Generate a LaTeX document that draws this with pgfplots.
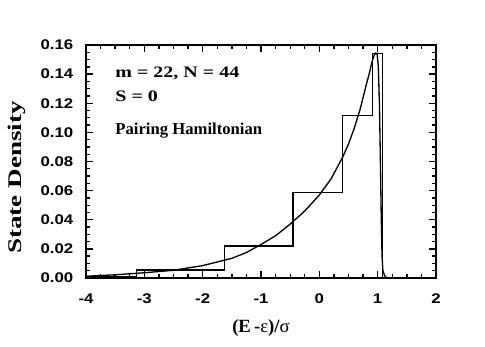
\documentclass[border=0pt]{standalone}
\usepackage{fontspec}
\setmainfont{Liberation Serif}
\newfontfamily\tickfont{Liberation Sans}[FakeStretch=1.2]
\newfontfamily\wideserif{Liberation Serif}[FakeStretch=1.25]
\newfontfamily\ylabfont{Liberation Serif}[FakeStretch=1.4]
\usepackage{pgfplots}
\pgfplotsset{compat=1.18}
\begin{document}
\begin{tikzpicture}
\useasboundingbox (-64.5pt,-51pt) rectangle (299.25pt,208.5pt);
\begin{axis}[
  at={(0pt,0pt)}, anchor=south west,
  scale only axis, width=262.5pt, height=174.75pt,
  xmin=-4, xmax=2, ymin=0, ymax=0.16,
  xtick={-4,-3,-2,-1,0,1,2}, ytick={0,0.02,0.04,0.06,0.08,0.10,0.12,0.14,0.16},
  minor x tick num=3, minor y tick num=3,
  tick align=inside,
  major tick length=5pt, minor tick length=3.2pt,
  axis line style={line width=1pt},
  tick style={black, line width=1pt},
  /pgf/number format/assume math mode=true,
  tick label style={font=\tickfont\bfseries\fontsize{10.5}{12}\selectfont},
  yticklabel style={/pgf/number format/fixed, /pgf/number format/fixed zerofill, /pgf/number format/precision=2, xshift=-6pt},
  xticklabel style={yshift=-8pt},
  xlabel={(E\,-\textmd{ε})/\textmd{σ}},
  ylabel={State Density},
  xlabel style={at={(axis description cs:0.5,-0.215)}, anchor=center, font=\bfseries\fontsize{14}{16}\selectfont},
  ylabel style={at={(axis description cs:-0.197,0.431)}, anchor=center, font=\ylabfont\bfseries\fontsize{14.5}{17}\selectfont},
  tk/.style={black, line width=1pt, forget plot},
]
% tick marks drawn through the axis (x major / minor)
\pgfplotsinvokeforeach{-3,-2,-1,0,1}{
  \addplot[tk] coordinates {(#1,0) (#1,0.004578)};
  \addplot[tk] coordinates {(#1,0.16) (#1,0.155422)};
}
\pgfplotsinvokeforeach{-3.75,-3.5,-3.25,-2.75,-2.5,-2.25,-1.75,-1.5,-1.25,-0.75,-0.5,-0.25,0.25,0.5,0.75,1.25,1.5,1.75}{
  \addplot[tk] coordinates {(#1,0) (#1,0.00293)};
  \addplot[tk] coordinates {(#1,0.16) (#1,0.15707)};
}
\pgfplotsinvokeforeach{0.02,0.04,0.06,0.08,0.10,0.12,0.14}{
  \addplot[tk] coordinates {(-4,#1) (-3.88571,#1)};
  \addplot[tk] coordinates {(2,#1) (1.88571,#1)};
}
\pgfplotsinvokeforeach{0.005,0.01,0.015,0.025,0.03,0.035,0.045,0.05,0.055,0.065,0.07,0.075,0.085,0.09,0.095,0.105,0.11,0.115,0.125,0.13,0.135,0.145,0.15,0.155}{
  \addplot[tk] coordinates {(-4,#1) (-3.92686,#1)};
  \addplot[tk] coordinates {(2,#1) (1.92686,#1)};
}
% histogram
\addplot[const plot, line width=1pt, black] coordinates {
  (-4,0.001) (-3.13,0.0055) (-1.63,0.022) (-0.45,0.0586) (0.40,0.1117) (0.91,0.154) (1.08,0)
};
% smooth density curve
\addplot[line width=1pt, black] coordinates {
  (-4,0.0012) (-3.5,0.0022) (-3,0.0036) (-2.5,0.0053) (-2,0.0085) (-1.5,0.0135)
  (-1.25,0.0175) (-1,0.023) (-0.75,0.029) (-0.5,0.037) (-0.25,0.046) (0,0.057)
  (0.2,0.068) (0.4,0.083) (0.5,0.092) (0.6,0.103) (0.7,0.116) (0.8,0.132)
  (0.86,0.141) (0.9,0.148) (0.94,0.153) (0.97,0.1545) (0.99,0.154) (1.01,0.146)
  (1.03,0.12) (1.045,0.085) (1.06,0.045) (1.075,0.015) (1.09,0.005) (1.12,0.0015) (1.16,0)
};
\node[anchor=base west, inner sep=0pt, font=\wideserif\bfseries\fontsize{12}{14}\selectfont] at (axis cs:-3.5,0.1374) {m = 22, N = 44};
\node[anchor=base west, inner sep=0pt, font=\wideserif\bfseries\fontsize{12}{14}\selectfont] at (axis cs:-3.5,0.1209) {S = 0};
\node[anchor=base west, inner sep=0pt, font=\bfseries\fontsize{12.5}{14}\selectfont] at (axis cs:-3.5,0.0982) {Pairing Hamiltonian};
\end{axis}
\end{tikzpicture}
\end{document}
